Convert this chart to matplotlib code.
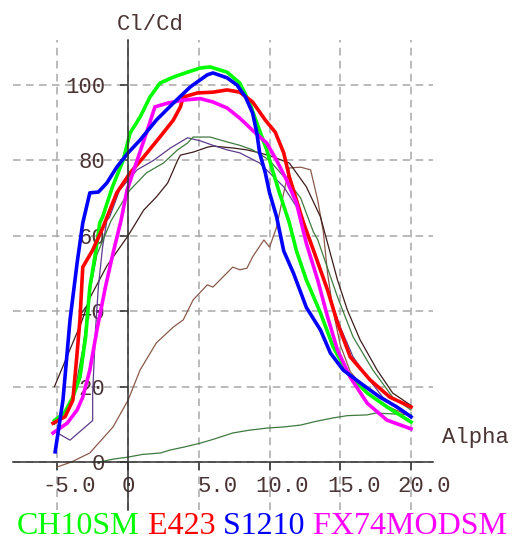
import matplotlib
matplotlib.use('Agg')
import matplotlib.pyplot as plt
from matplotlib.transforms import ScaledTranslation

# ---- data (alpha in deg, Cl/Cd) ----
ch10sm_a = [-5.2, -4.5, -3.9, -3.4, -3.0, -2.7, -2.3, -2.0, -1.8, -1.1, -0.35, 0.15, 0.85, 1.55, 2.25, 3.2,
            4.2, 5.1, 5.8, 7.0, 7.9, 8.6, 9.2, 9.8, 10.2, 10.7, 11.4, 11.9, 12.6, 13.6, 14.5, 15.5, 16.9,
            18.3, 20.0]
ch10sm_v = [11, 13, 17.2, 22.5, 33, 46.4, 55.4, 63.4, 65, 73, 80, 87.3, 91.5, 96.8, 100.5, 102.1,
            103.4, 104.5, 104.8, 103.4, 100.5, 95.2, 88.9, 82.8, 77.5, 71.4, 63.4, 56, 48.3, 39.5, 30.5, 23.6, 18.3,
            14.6, 10.6]

e423_a = [-5.3, -4.45, -3.9, -3.6, -3.4, -3.2, -2.5, -1.8, -0.8, 0.15, 1.1, 2.25, 3.2, 3.7, 3.9, 4.9,
          6.0, 7.0, 7.9, 8.8, 9.7, 10.4, 11.0, 11.4, 11.9, 12.4, 13.1, 14.1, 14.8, 15.7, 17.1, 18.5, 20.0]
e423_v = [10.3, 12, 16.4, 28.9, 37.7, 51.7, 56.2, 62, 71.4, 76.7, 80.9, 86.2, 90.7, 94.2, 96.8, 97.9,
          98.1, 98.7, 98.1, 95.5, 90.7, 87.5, 82, 75.6, 69.5, 63.4, 56.2, 45.6, 36.9, 27.9, 21.8, 17.2, 14.6]

s1210_a = [-5.15, -4.6, -4.1, -3.6, -3.2, -2.7, -2.1, -1.5, -0.8, 0, 0.85, 2.0, 3.2, 4.4, 5.6, 6.0,
           7.0, 7.7, 8.3, 8.8, 9.1, 9.3, 9.7, 10.0, 10.5, 11.0, 11.7, 12.6, 13.6, 14.3, 15.2, 16.4, 17.8,
           19.0, 20.0]
s1210_v = [2.7, 16.4, 37.7, 52.8, 63.4, 71.4, 71.6, 74, 78.2, 82, 85.4, 90.7, 95.2, 99.5, 102.7, 103.2,
           101.9, 100, 96.8, 92.6, 87.3, 82, 76.7, 71.4, 65, 56, 50, 41, 35, 28.9, 24.4, 21, 17.2,
           14.6, 12]

fx74_a = [-5.3, -4.3, -3.6, -3.2, -2.7, -2.2, -1.6, -1.06, -0.5, -0.07, 0.64, 1.3, 1.9, 2.8, 3.9, 5.1,
          6.0, 7.0, 7.9, 8.8, 9.8, 10.5, 11.2, 11.9, 12.6, 13.4, 14.1, 14.8, 15.7, 16.9, 18.3, 20.0]
fx74_v = [7.7, 10.3, 13.8, 17.2, 24.4, 35, 46.4, 55.4, 64, 72.1, 80, 87.3, 94.2, 95.2, 96, 96.4,
          95.5, 93.9, 91.2, 88, 84.6, 80, 74.8, 68.7, 58, 48.3, 38.5, 29.7, 22.5, 15.6, 11.1, 8.8]

# thin reference polars
dkgreen_a = [-5.2, -4.5, -3.8, -3.2, -2.7, -2.2, -1.2, 0.1, 1.3, 2.5, 3.5, 4.2, 4.6, 5.8, 7.0, 7.9,
             8.8, 9.6, 10.0, 10.7, 11.4, 12.2, 12.6, 13.1, 13.4, 14.8, 15.9, 17.3, 18.7, 20.0]
dkgreen_v = [10, 12, 18, 30, 45, 55, 64, 72, 76.7, 79.3, 82.8, 84.6, 86.2, 86.2, 84.9, 84,
             82.8, 81, 80, 77, 74, 70, 66, 61, 59, 43.8, 33.2, 24.4, 17.2, 13.8]

purple_a = [-5.0, -4.1, -2.5, -2.5, -2.3, -2.1, -1.8, -1.5, -1.3, -0.6, 0.64, 1.8, 3.0, 4.2, 5.1, 6.0,
            7.0, 7.9, 9.3, 11.0, 12.2, 12.9, 14.1, 15.0, 15.9, 16.9, 18.0, 20.0]
purple_v = [7.7, 5.8, 11, 18.3, 35, 46.4, 57, 64, 65, 72.1, 77.5, 80, 83.3, 86, 85.2, 84,
            82.8, 82, 79.3, 73, 66, 58.9, 45.6, 35.8, 27.9, 22.5, 17.2, 11.7]

dkbrown_a = [-5.2, -4.2, -3.3, -2.7, -1.5, 0, 1.1, 2.0, 2.8, 3.5, 3.7, 4.6, 5.6, 6.0, 7.4, 8.4,
             9.3, 10.2, 11.4, 12.6, 13.6, 14.8, 15.5, 16.4, 17.6, 18.7, 20.0]
dkbrown_v = [20, 29, 37, 43.5, 52, 60, 66.8, 70.3, 74, 80, 81.4, 82.2, 83.5, 83.8, 83.3, 82.8,
             82, 81, 79.3, 73, 65, 48.3, 40.3, 32.4, 24.4, 18.3, 15]

brown_a = [-5.0, -4.0, -2.7, -1.06, 0, 0.85, 2.0, 3.2, 3.9, 4.6, 5.6, 6.0, 6.5, 7.4, 7.9, 8.4,
           8.8, 9.6, 10.0, 10.5, 11.0, 11.4, 12.2, 12.9, 13.4, 13.8, 14.1, 14.5, 15.0, 15.7, 17.0, 18.5, 20.0]
brown_v = [-1.3, 0, 2.4, 9.3, 16.4, 24.4, 31.6, 35.8, 37.7, 43, 47, 46.4, 48.3, 51.7, 51, 51.4,
           54.4, 58.9, 57, 62.3, 71.4, 78, 78.2, 77.5, 69.5, 61, 50, 40, 31, 24, 18, 14.5, 12]

lowgreen_a = [-2.0, -1.0, 0, 1.0, 2.3, 3.0, 4.0, 5.1, 6.0, 7.4, 8.5, 9.8, 11.0, 12.2, 13.3, 14.5,
              15.5, 16.9, 17.5, 18.5, 20.0]
lowgreen_v = [0, 0.8, 1.3, 2.0, 2.4, 3.2, 4.0, 5.0, 6.0, 7.7, 8.4, 9.0, 9.3, 9.8, 10.8, 11.7,
              12.3, 12.5, 13, 12.8, 12.5]

x_ticks = [-5, 0, 5, 10, 15, 20]
x_labels = ['-5.0', '0', '5.0', '10.0', '15.0', '20.0']
y_ticks = [0, 20, 40, 60, 80, 100]
y_labels = ['0', '20', '40', '60', '80', '100']

legend_names = ['CH10SM', 'E423', 'S1210', 'FX74MODSM']
legend_colors = ['#00ff00', '#ff0000', '#0000ff', '#ff00ff']

mono = 'Liberation Mono'
txt_col = '#4b3434'

fig = plt.figure(figsize=(5.12, 5.42), dpi=100)
ax = fig.add_axes([13 / 512, 1 - 510 / 542, 420 / 512, 470 / 542])
ax.set_xlim(-8.13, 21.55)
ax.set_ylim(-12.73, 111.94)

for s in ['top', 'right']:
    ax.spines[s].set_visible(False)
for s in ['left', 'bottom']:
    ax.spines[s].set_position(('data', 0))
    ax.spines[s].set_color('#303030')
    ax.spines[s].set_linewidth(1.1)

ax.set_axisbelow(True)
ax.grid(True, color='#a8a8a8', linestyle=(0, (5, 3.5)), linewidth=1.1)

ax.set_xticks(x_ticks)
ax.set_xticklabels(x_labels)
ax.set_yticks(y_ticks)
ax.set_yticklabels(y_labels)
ax.tick_params(direction='out', length=5.8, width=1.1, color='#303030', labelcolor=txt_col, labelsize=16)
ax.tick_params(axis='x', pad=4)
ax.tick_params(axis='y', pad=10.5)
for lab in ax.get_xticklabels() + ax.get_yticklabels():
    lab.set_family(mono)

# x labels sit a bit right of their ticks in the original
x_shift_px = [12, 0, 19, 13, 14, 13]
for lab, dx in zip(ax.get_xticklabels(), x_shift_px):
    lab.set_transform(lab.get_transform() + ScaledTranslation(dx / 100, 0, fig.dpi_scale_trans))

# thin curves
thin = 0.9
ax.plot(lowgreen_a, lowgreen_v, color='#3f7a3f', lw=thin)
ax.plot(brown_a, brown_v, color='#8a5a4a', lw=thin)
ax.plot(dkbrown_a, dkbrown_v, color='#3e1c1c', lw=thin)
ax.plot(purple_a, purple_v, color='#5e3c8c', lw=thin)
ax.plot(dkgreen_a, dkgreen_v, color='#3f7a3f', lw=thin)

# thick curves
thick = 2.6
ax.plot(ch10sm_a, ch10sm_v, color=legend_colors[0], lw=thick)
ax.plot(e423_a, e423_v, color=legend_colors[1], lw=thick)
ax.plot(fx74_a, fx74_v, color=legend_colors[3], lw=thick)
ax.plot(s1210_a, s1210_v, color=legend_colors[2], lw=thick)

fig.text(117 / 512, 1 - 30 / 542, 'Cl/Cd', family=mono, fontsize=16, color=txt_col, va='baseline')
fig.text(442 / 512, 1 - 443 / 542, 'Alpha', family=mono, fontsize=16, color=txt_col, va='baseline')

# coloured names under the chart
t = fig.text(17 / 512, 0.001, legend_names[0], color=legend_colors[0],
             family='Liberation Serif', fontsize=23, va='bottom')
for name, col in zip(legend_names[1:], legend_colors[1:]):
    t = ax.annotate(' ' + name, xy=(1, 0), xycoords=t, va='bottom', ha='left', color=col,
                    family='Liberation Serif', fontsize=23, annotation_clip=False)

fig.savefig('out.png', dpi=100)
